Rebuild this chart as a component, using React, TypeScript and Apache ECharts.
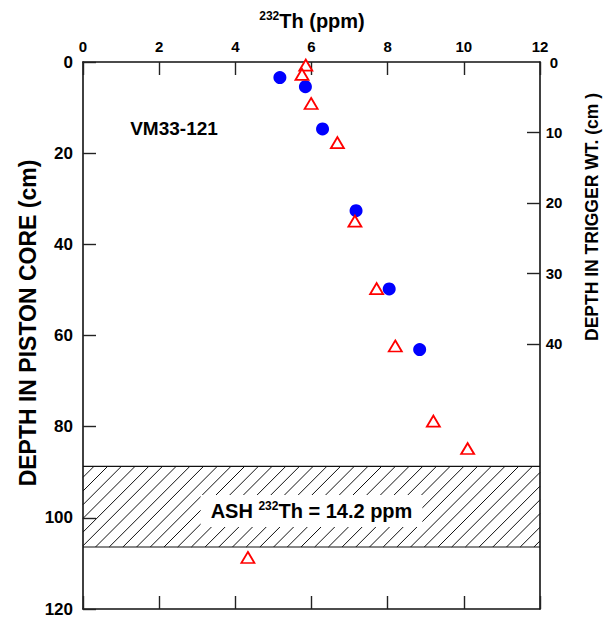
import React, { useEffect, useRef } from 'react';
import * as echarts from 'echarts';

const FONT = '"Liberation Sans", Arial, Helvetica, sans-serif';

const X_MIN = 0;
const X_MAX = 12;
const X_INTERVAL = 2;

const PISTON_MIN = 0;
const PISTON_MAX = 120;
const PISTON_INTERVAL = 20;

const TRIGGER_MIN = 0;
const TRIGGER_MAX = 77.6;
const TRIGGER_LABELS = [0, 10, 20, 30, 40];
const TRIGGER_TICKS = [10, 20, 30, 40];

// Piston core samples (open red triangles): 232Th (ppm) vs depth (cm)
const pistonTh = [5.85, 5.75, 5.99, 6.68, 7.14, 7.71, 8.2, 9.2, 10.1, 4.33];
const pistonDepth = [0.7, 2.7, 9.1, 17.7, 34.9, 49.7, 62.3, 78.8, 84.8, 108.7];

// Trigger weight samples (blue dots): 232Th (ppm) vs depth in trigger wt. (cm)
const triggerTh = [5.17, 5.84, 6.29, 7.17, 8.04, 8.84];
const triggerDepth = [2.2, 3.5, 9.5, 21.1, 32.2, 40.8];

// Ash layer
const ASH_TOP = 88.7;
const ASH_BOTTOM = 106.4;
const ASH_TH = '14.2';
const ASH_LABEL_X = 6.0;
const ASH_LABEL_Y = 98.5;

const CORE_NAME = 'VM33-121';

export default function App() {
  const ref = useRef<HTMLDivElement>(null);

  useEffect(() => {
    document.body.style.margin = '0';
    if (!ref.current) return;
    const chart = echarts.init(ref.current, null, { renderer: 'svg' });

    const axisLineStyle = { color: '#111', width: 1.6 };
    const tickStyle = { color: '#222', width: 1.4 };

    const option: any = {
      animation: false,
      backgroundColor: '#fff',
      textStyle: { fontFamily: FONT },
      grid: { left: 83, right: 71, top: 62, bottom: 10, containLabel: false },
      xAxis: [
        {
          type: 'value',
          position: 'top',
          min: X_MIN,
          max: X_MAX,
          interval: X_INTERVAL,
          axisLine: { show: true, onZero: false, lineStyle: axisLineStyle },
          axisTick: { show: true, inside: true, length: 13, lineStyle: tickStyle },
          axisLabel: { show: true, margin: 8, fontSize: 15, fontWeight: 'bold', color: '#000', fontFamily: FONT },
          splitLine: { show: false },
        },
        {
          type: 'value',
          position: 'bottom',
          min: X_MIN,
          max: X_MAX,
          interval: X_INTERVAL,
          axisLine: { show: true, onZero: false, lineStyle: axisLineStyle },
          axisTick: { show: true, inside: true, length: 13, lineStyle: tickStyle },
          axisLabel: { show: false },
          splitLine: { show: false },
        },
      ],
      yAxis: [
        {
          type: 'value',
          position: 'left',
          inverse: true,
          min: PISTON_MIN,
          max: PISTON_MAX,
          interval: PISTON_INTERVAL,
          axisLine: { show: true, onZero: false, lineStyle: axisLineStyle },
          axisTick: { show: true, inside: true, length: 13, lineStyle: tickStyle },
          axisLabel: { show: true, margin: 10, fontSize: 17, fontWeight: 'bold', color: '#000', fontFamily: FONT },
          splitLine: { show: false },
        },
        {
          type: 'value',
          position: 'right',
          inverse: true,
          min: TRIGGER_MIN,
          max: TRIGGER_MAX,
          axisLine: { show: true, onZero: false, lineStyle: axisLineStyle },
          axisTick: { show: true, inside: true, length: 13, lineStyle: tickStyle, customValues: TRIGGER_TICKS },
          axisLabel: {
            show: true,
            margin: 14,
            align: 'center',
            fontSize: 15,
            fontWeight: 'bold',
            color: '#000',
            fontFamily: FONT,
            customValues: TRIGGER_LABELS,
          },
          splitLine: { show: false },
        },
      ],
      graphic: [
        {
          type: 'text',
          x: 312,
          y: 21,
          style: {
            text: '{s|232}{t|Th (ppm)}',
            align: 'center',
            verticalAlign: 'middle',
            fill: '#000',
            rich: {
              s: { fontSize: 12, fontWeight: 'bold', fontFamily: FONT, fill: '#000', verticalAlign: 'top', lineHeight: 22 },
              t: { fontSize: 20, fontWeight: 'bold', fontFamily: FONT, fill: '#000', lineHeight: 22 },
            },
          },
        },
        {
          type: 'text',
          x: 174,
          y: 128,
          style: {
            text: CORE_NAME,
            align: 'center',
            verticalAlign: 'middle',
            fontSize: 19,
            fontWeight: 'bold',
            fontFamily: FONT,
            fill: '#000',
          },
        },
        {
          type: 'text',
          x: 28,
          y: 323,
          rotation: Math.PI / 2,
          style: {
            text: 'DEPTH IN PISTON CORE (cm)',
            align: 'center',
            verticalAlign: 'middle',
            fontSize: 23,
            fontWeight: 'bold',
            fontFamily: FONT,
            fill: '#000',
          },
        },
        {
          type: 'text',
          x: 592,
          y: 217,
          rotation: Math.PI / 2,
          style: {
            text: 'DEPTH IN TRIGGER WT. (cm )',
            align: 'center',
            verticalAlign: 'middle',
            fontSize: 17.5,
            fontWeight: 'bold',
            fontFamily: FONT,
            fill: '#000',
          },
        },
      ],
      series: [
        {
          type: 'custom',
          name: 'ash',
          xAxisIndex: 0,
          yAxisIndex: 0,
          z: 1,
          clip: false,
          encode: { x: [0, 2], y: [1, 3] },
          data: [[X_MIN, ASH_TOP, X_MAX, ASH_BOTTOM]],
          renderItem: (params: any, api: any) => {
            const p0 = api.coord([api.value(0), api.value(1)]);
            const p1 = api.coord([api.value(2), api.value(3)]);
            const L = p0[0];
            const T = p0[1];
            const R = p1[0];
            const B = p1[1];
            const children: any[] = [];
            const step = 13.7;
            for (let c = L + T + 11; c < R + B; c += step) {
              const ys = Math.max(T, c - R);
              const ye = Math.min(B, c - L);
              if (ye > ys) {
                children.push({
                  type: 'line',
                  shape: { x1: c - ys, y1: ys, x2: c - ye, y2: ye },
                  style: { stroke: '#111', lineWidth: 1 },
                });
              }
            }
            children.push({
              type: 'line',
              shape: { x1: L, y1: T, x2: R, y2: T },
              style: { stroke: '#111', lineWidth: 1.2 },
            });
            children.push({
              type: 'line',
              shape: { x1: L, y1: B, x2: R, y2: B },
              style: { stroke: '#111', lineWidth: 1.2 },
            });
            const lp = api.coord([ASH_LABEL_X, ASH_LABEL_Y]);
            children.push({
              type: 'text',
              x: lp[0],
              y: lp[1],
              style: {
                text: '{b|ASH }{s|232}{b|Th = ' + ASH_TH + ' ppm}',
                align: 'center',
                verticalAlign: 'middle',
                backgroundColor: '#fff',
                padding: [5, 10, 5, 10],
                fill: '#000',
                rich: {
                  b: { fontSize: 20, fontWeight: 'bold', fontFamily: FONT, fill: '#000', lineHeight: 22 },
                  s: { fontSize: 12, fontWeight: 'bold', fontFamily: FONT, fill: '#000', verticalAlign: 'top', lineHeight: 22 },
                },
              },
            });
            return { type: 'group', children };
          },
        },
        {
          type: 'scatter',
          name: 'trigger',
          xAxisIndex: 0,
          yAxisIndex: 1,
          z: 3,
          symbol: 'circle',
          symbolSize: 13,
          itemStyle: { color: '#0000ff', opacity: 1 },
          data: triggerTh.map((v, i) => [v, triggerDepth[i]]),
        },
        {
          type: 'scatter',
          name: 'piston',
          xAxisIndex: 0,
          yAxisIndex: 0,
          z: 4,
          symbol: 'triangle',
          symbolSize: [13, 11],
          itemStyle: { color: '#ffffff', borderColor: '#ff0000', borderWidth: 1.8, opacity: 1 },
          data: pistonTh.map((v, i) => [v, pistonDepth[i]]),
        },
      ],
    };

    chart.setOption(option);
    return () => {
      chart.dispose();
    };
  }, []);

  return <div ref={ref} style={{ width: 611, height: 619 }} />;
}
